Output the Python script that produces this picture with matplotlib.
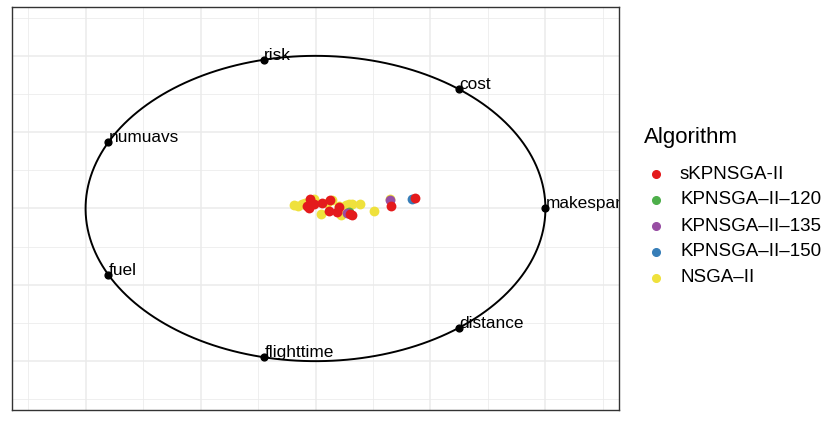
import numpy as np
import matplotlib.pyplot as plt
from matplotlib.lines import Line2D

plt.rcParams['font.family'] = ['Liberation Sans', 'DejaVu Sans']

# anchors of the radviz circle
anchors = ['makespan', 'cost', 'risk', 'numuavs', 'fuel', 'flighttime', 'distance']

# projected points per algorithm (radviz coordinates)
algorithms = ['sKPNSGA-II', 'KPNSGA\u2013II\u2013120', 'KPNSGA\u2013II\u2013135',
              'KPNSGA\u2013II\u2013150', 'NSGA\u2013II']
colors = ['#E41A1C', '#4DAF4A', '#984EA3', '#377EB8', '#EFE13C']

nsga_x = [-0.095, -0.078, -0.058, -0.044, -0.029, -0.007, 0.022, 0.048, 0.073,
          0.102, 0.109, 0.131, 0.144, 0.160, 0.193, 0.254, 0.322]
nsga_y = [0.022, 0.015, 0.028, 0.035, 0.039, 0.065, -0.037, 0.035, 0.056,
          0.017, -0.044, 0.022, 0.028, 0.028, 0.028, -0.016, 0.061]
k120_x = [0.146]
k120_y = [-0.024]
k150_x = [0.421]
k150_y = [0.065]
k135_x = [0.324, 0.135]
k135_y = [0.056, -0.031]
skp_x = [-0.022, -0.036, -0.029, -0.007, 0.029, 0.065, 0.058, 0.092, 0.102,
         0.160, 0.148, 0.330, 0.431]
skp_y = [0.065, 0.017, 0.000, 0.028, 0.039, 0.056, -0.016, -0.026, 0.013,
         -0.044, -0.037, 0.017, 0.072]

fig = plt.figure(figsize=(8.3, 4.24), dpi=100)
ax = fig.add_axes([12 / 830, 1 - 410 / 424, 607 / 830, 403 / 424])

lim = 1.32
ax.set_xlim(-lim, lim)
ax.set_ylim(-lim, lim)
ax.set_xticks(np.arange(-1, 1.01, 0.5))
ax.set_yticks(np.arange(-1, 1.01, 0.5))
ax.set_xticks(np.arange(-1.25, 1.3, 0.5), minor=True)
ax.set_yticks(np.arange(-1.25, 1.3, 0.5), minor=True)
ax.tick_params(which='both', length=0, labelbottom=False, labelleft=False)
ax.grid(which='major', color='#EBEBEB', lw=1.1)
ax.grid(which='minor', color='#EBEBEB', lw=0.55)
ax.set_axisbelow(True)
for s in ax.spines.values():
    s.set_color('#333333')
    s.set_linewidth(1.0)

# circle
t = np.linspace(0, 2 * np.pi, 400)
ax.plot(np.cos(t), np.sin(t), color='black', lw=1.4, zorder=2)

ang = 2 * np.pi * np.arange(len(anchors)) / len(anchors)
ax.scatter(np.cos(ang), np.sin(ang), s=24, color='black', zorder=3)
for a, name in zip(ang, anchors):
    ax.text(np.cos(a), np.sin(a), name, fontsize=12.4, ha='left', va='baseline',
            clip_on=True, zorder=4)

ms = 50
ax.scatter(nsga_x, nsga_y, s=ms, color=colors[4], lw=0, zorder=5)
ax.scatter(k120_x, k120_y, s=ms, color=colors[1], lw=0, zorder=6)
ax.scatter(k150_x, k150_y, s=ms, color=colors[3], lw=0, zorder=6)
ax.scatter(k135_x, k135_y, s=ms, color=colors[2], lw=0, zorder=7)
ax.scatter(skp_x, skp_y, s=ms, color=colors[0], lw=0, zorder=8)

# legend drawn by hand to match the ggplot spacing
fig.text(644 / 830, 1 - 138 / 424, 'Algorithm', fontsize=16, va='center', ha='left')
for i, (lab, c) in enumerate(zip(algorithms, colors)):
    yy = 1 - (174 + 26 * i) / 424
    fig.add_artist(Line2D([656 / 830], [yy], transform=fig.transFigure, marker='o',
                          ls='', color=c, markersize=5.5))
    fig.text(680 / 830, yy, lab, fontsize=13.5, va='center', ha='left')

fig.savefig('out.png', dpi=100)
